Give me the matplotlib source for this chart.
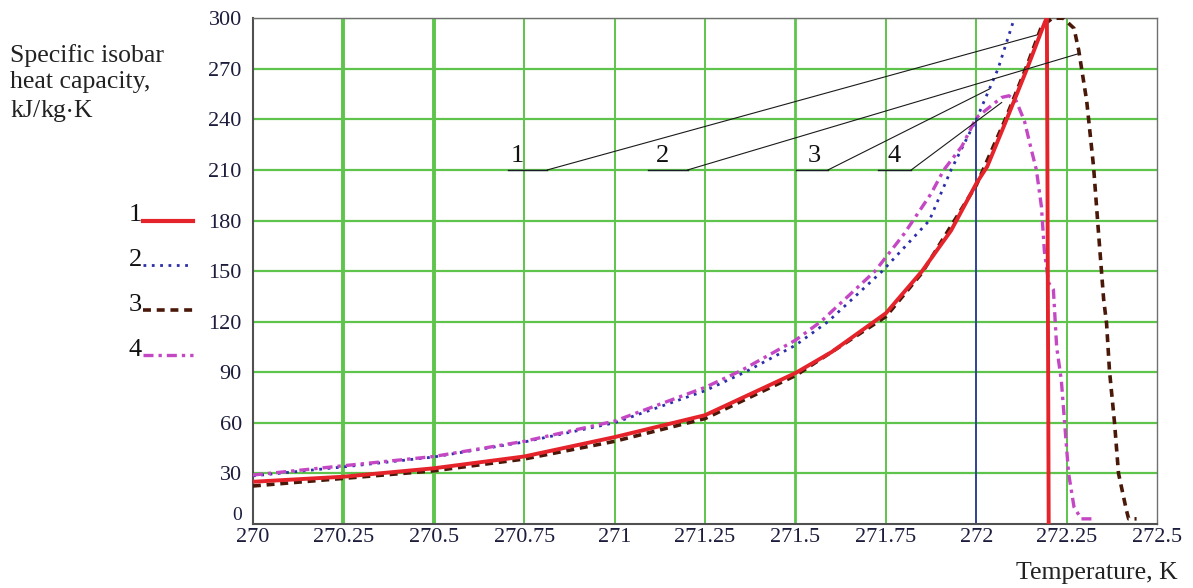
import matplotlib.pyplot as plt

# --- Data ---
# Curve 1 (red, solid)
t1 = [270.0, 270.25, 270.5, 270.75, 271.0, 271.25, 271.5, 271.6, 271.75, 271.85,
      271.93, 272.0, 272.03, 272.08, 272.14, 272.19, 272.195, 272.2]
c1 = [25, 28, 33, 40, 51.5, 64.5, 89.5, 102, 125, 150,
      174, 202, 212, 238, 270, 298, 300, 0]

# Curve 2 (blue, dotted)
t2 = [270.0, 270.25, 270.5, 270.75, 271.0, 271.25, 271.36, 271.5, 271.59, 271.74,
      271.87, 271.93, 272.0, 272.06, 272.105]
c2 = [28.5, 33.8, 39.7, 48.6, 60, 79, 90, 106, 120, 150,
      180, 210, 240, 270, 300]

# Curve 3 (dark brown, dashed)
t3 = [270.0, 270.25, 270.5, 270.75, 271.0, 271.25, 271.5, 271.75, 271.85, 272.0,
      272.08, 272.14, 272.18, 272.21, 272.24, 272.27, 272.283, 272.305, 272.324,
      272.338, 272.352, 272.36, 272.368, 272.382, 272.393, 272.415, 272.421, 272.443]
c3 = [22.5, 27, 31.5, 38.5, 49, 62.5, 88, 123, 149, 201,
      240, 272, 295, 300, 300, 294, 281, 251, 212,
      172, 133, 119, 91, 60, 30, 8, 3, 3]

# Curve 4 (magenta, dash-dot)
t4 = [270.0, 270.25, 270.5, 270.75, 271.0, 271.25, 271.35, 271.5, 271.57, 271.72,
      271.80, 271.875, 271.91, 271.96, 272.0, 272.07, 272.09, 272.11, 272.133,
      272.152, 272.166, 272.18, 272.188, 272.2, 272.213, 272.222, 272.235,
      272.244, 272.255, 272.27, 272.29, 272.327]
c4 = [29, 34.5, 40, 49, 61, 81, 91, 109, 120, 150,
      172, 196, 210, 224, 241, 253, 254, 251, 239,
      222, 210, 188, 162, 143, 139, 105, 85,
      60, 30, 10, 3, 3]

# Blue marker line at 272 K
t_mark = [272.0, 272.0]
c_mark = [0, 240]

# Callout labels: text position, underline span and end point on the curve
call_names = ['1', '2', '3', '4']
call_text_t = [270.731, 271.133, 271.551, 271.773]
call_under_t0 = [270.704, 271.091, 271.501, 271.729]
call_under_t1 = [270.814, 271.202, 271.590, 271.820]
call_level = 210
call_end_t = [272.166, 272.283, 272.036, 272.07]
call_end_c = [290, 279, 258, 250]

x_ticks = [270, 270.25, 270.5, 270.75, 271, 271.25, 271.5, 271.75, 272, 272.25, 272.5]
x_labels = ['270', '270.25', '270.5', '270.75', '271', '271.25', '271.5', '271.75',
            '272', '272.25', '272.5']
y_ticks = [0, 30, 60, 90, 120, 150, 180, 210, 240, 270, 300]

# --- Styles ---
SERIF = 'Liberation Serif'
GREEN = '#5ec44c'
RED = '#e5232b'
BLUE = '#2b2fa8'
BROWN = '#4a1808'
MAGENTA = '#c447c4'
TICK_COLOR = '#1c1c3c'

fig = plt.figure(figsize=(11.93, 5.88), dpi=100)
ax = fig.add_axes([0.212, 0.109, 0.758, 0.860])

# green grid, some verticals drawn heavier like in the source
thick = {270.25: 2.8, 270.5: 2.8, 271.5: 2.0}
for xv in x_ticks[1:-1]:
    ax.axvline(xv, color=GREEN, lw=thick.get(xv, 1.4), zorder=1)
for yv in y_ticks[1:]:
    ax.axhline(yv, color=GREEN, lw=1.6, zorder=1)

ax.plot(t_mark, c_mark, color=BLUE, lw=1.2, zorder=2)

ax.plot(t3, c3, color=BROWN, lw=2.6, ls=(0, (2.2, 1.6)), zorder=3)
ax.plot(t1, c1, color=RED, lw=2.8, zorder=4)
ax.plot(t2, c2, color=BLUE, lw=2.0, ls=(0, (1, 2)), zorder=3)
ax.plot(t4, c4, color=MAGENTA, lw=2.4, ls=(0, (3, 1.5, 1, 1.5)), zorder=3)

# callouts
for i, name in enumerate(call_names):
    ax.text(call_text_t[i], call_level + 2, name, family=SERIF, fontsize=19,
            ha='center', va='bottom', color='#111111', zorder=6)
    ax.plot([call_under_t0[i], call_under_t1[i]], [call_level, call_level],
            color='#1a1a2a', lw=1.0, zorder=6)
    ax.plot([call_under_t1[i], call_end_t[i]], [call_level, call_end_c[i]],
            color='#1a1a1a', lw=0.8, zorder=6)

ax.set_xlim(270, 272.5)
ax.set_ylim(0, 300)
ax.set_xticks(x_ticks)
ax.set_xticklabels(x_labels)
ax.set_yticks(y_ticks)
ax.tick_params(length=0, labelsize=16, labelcolor=TICK_COLOR)
ax.tick_params(axis='y', pad=8)
ax.tick_params(axis='x', pad=3)
for lab in ax.get_xticklabels() + ax.get_yticklabels():
    lab.set_family(SERIF)
# the "0" sits a little above the x labels, as in the source
zero_lab = ax.get_yticklabels()[0]
zero_lab.set_va('bottom')
zero_lab.set_fontsize(14)

for side in ['left', 'bottom']:
    ax.spines[side].set_color('#505050')
    ax.spines[side].set_linewidth(1.5)
for side in ['right', 'top']:
    ax.spines[side].set_color('#707070')
    ax.spines[side].set_linewidth(1.0)

# legend drawn by hand to the left of the axes
leg_y = [0.600, 0.512, 0.423, 0.334]
leg_colors = [RED, BLUE, BROWN, MAGENTA]
leg_styles = ['-', (0, (1, 2)), (0, (2.2, 1.6)), (0, (3, 1.5, 1, 1.5))]
leg_widths = [3.0, 2.0, 2.6, 2.4]
for i, name in enumerate(call_names):
    ax.plot([-0.121, -0.066], [leg_y[i], leg_y[i]], transform=ax.transAxes,
            color=leg_colors[i], ls=leg_styles[i], lw=leg_widths[i], clip_on=False)
    ax.text(-0.123, leg_y[i] + 0.010, name, transform=ax.transAxes, family=SERIF,
            fontsize=19, ha='right', va='center', color='#111111')

fig.text(0.008, 0.925, 'Specific isobar\nheat capacity,\nkJ/kg$\\cdot$K', family=SERIF,
         fontsize=18.5, ha='left', va='top', linespacing=1.25, color='#222222',
         math_fontfamily='stix')
fig.text(0.987, 0.006, 'Temperature, K', family=SERIF, fontsize=18.5,
         ha='right', va='bottom', color='#222222')

fig.savefig('out.png', dpi=100)
